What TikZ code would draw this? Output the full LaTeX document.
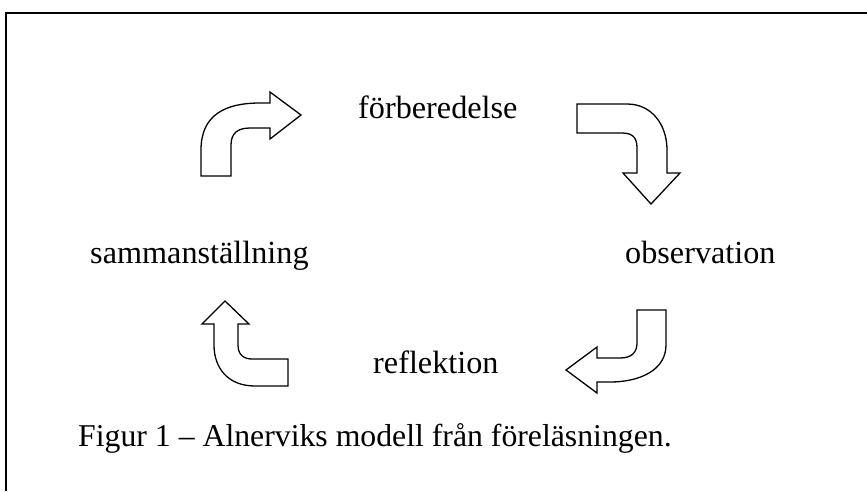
\documentclass[tikz,border=0pt]{standalone}
\usepackage{fontspec}
\setmainfont{Liberation Serif}
\begin{document}
\begin{tikzpicture}[x=0.03cm,y=-0.03cm,
  lbl/.style={inner sep=0pt,anchor=base west,font=\fontsize{27.5}{33}\selectfont},
  arr/.style={draw=black,line width=1.1pt,fill=white,line join=miter}]
\useasboundingbox (0,0) rectangle (867,491);
\draw[line width=1.4pt] (6,491) -- (6,13) -- (867,13);
% labels
\node[lbl] (prep) at (358,118) {förberedelse};
\node[lbl] (obs) at (625,263) {observation};
\node[lbl] (sum) at (90,263) {sammanställning};
\node[lbl] (refl) at (373,373) {reflektion};
\node[lbl,font=\fontsize{27.1}{33}\selectfont] (cap) at (78,446) {Figur 1 – Alnerviks modell från föreläsningen.};
% arrow 1: up-right
\draw[arr] (201,176) -- (201,150) .. controls (201,115) and (225,103) .. (260,103)
  -- (270,103) -- (270,92) -- (301,115) -- (270,139) -- (270,128) -- (250,128)
  .. controls (238,128) and (231,133) .. (231,145) -- (231,176) -- cycle;
% arrow 2: right-down
\draw[arr] (577,104) -- (627,104) .. controls (652,104) and (667,125) .. (667,150)
  -- (667,173) -- (680,173) -- (651,204) -- (623,173) -- (637,173) -- (637,148)
  .. controls (637,138) and (633,133) .. (622,133) -- (577,133) -- cycle;
% arrow 3: down-left
\draw[arr] (666,310) -- (666,345) .. controls (666,370) and (640,382) .. (610,382)
  -- (597,382) -- (597,393) -- (566,370) -- (597,347) -- (597,358) -- (620,358)
  .. controls (632,358) and (637,352) .. (637,343) -- (637,310) -- cycle;
% arrow 4: left-up
\draw[arr] (288,386) -- (255,386) .. controls (228,386) and (214,368) .. (214,345)
  -- (214,324) -- (202,324) -- (225,301) -- (249,324) -- (238,324) -- (238,345)
  .. controls (238,354) and (243,359) .. (252,359) -- (288,359) -- cycle;
\end{tikzpicture}
\end{document}
